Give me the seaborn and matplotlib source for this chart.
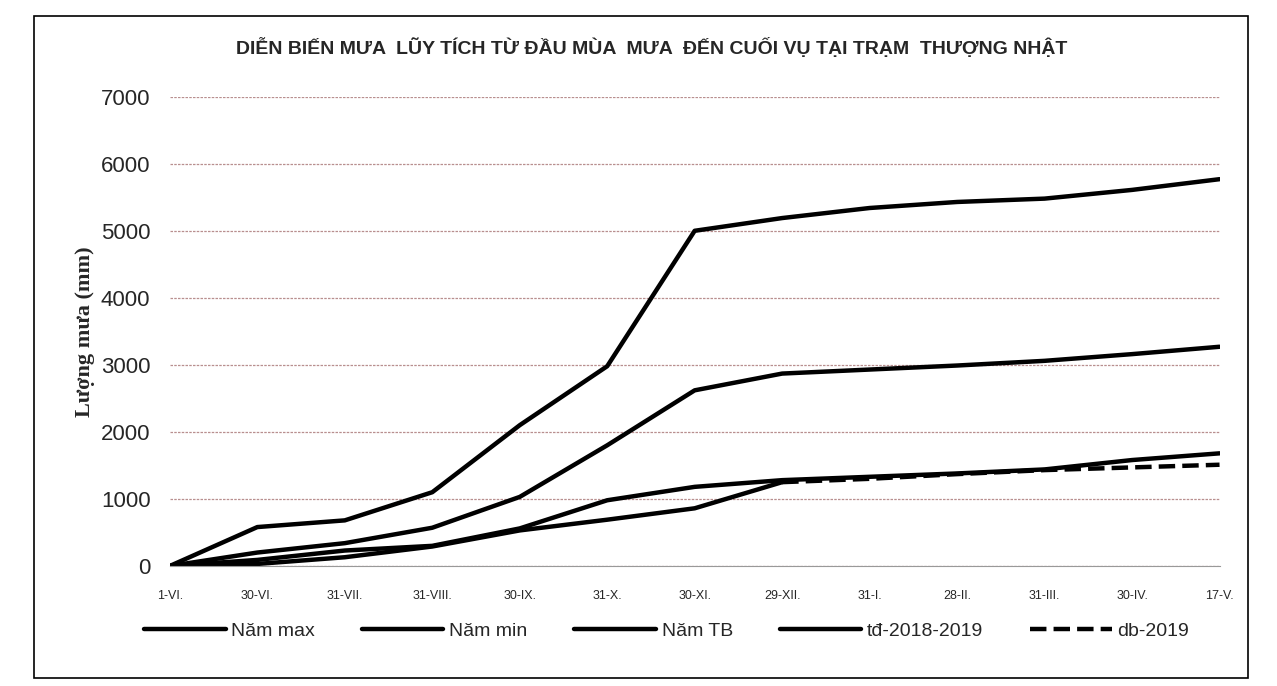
import numpy as np
import pandas as pd
import matplotlib.pyplot as plt
import seaborn as sns
from matplotlib.patches import Rectangle

# Dữ liệu
months = ['1-VI.', '30-VI.', '31-VII.', '31-VIII.', '30-IX.', '31-X.', '30-XI.',
          '29-XII.', '31-I.', '28-II.', '31-III.', '30-IV.', '17-V.']
nam_max = [0, 580, 680, 1100, 2100, 2980, 5000, 5190, 5340, 5430, 5480, 5610, 5770]
nam_min = [0, 90, 230, 300, 560, 980, 1180, 1280, 1330, 1380, 1440, 1580, 1680]
nam_tb = [0, 200, 340, 570, 1030, 1800, 2620, 2870, 2930, 2990, 3060, 3160, 3270]
td_2018_2019 = [0, 30, 130, 290, 530, 690, 860, 1250] + [np.nan] * 5
db_2019 = [np.nan] * 7 + [1250, 1300, 1370, 1430, 1470, 1510]

series = {
    'Năm max': nam_max,
    'Năm min': nam_min,
    'Năm TB': nam_tb,
    'tđ-2018-2019': td_2018_2019,
    'db-2019': db_2019,
}

sns.set_style('white')
plt.rcParams['font.family'] = ['Liberation Sans Narrow', 'Liberation Sans', 'DejaVu Sans']

fig = plt.figure(figsize=(12.77, 6.86), dpi=100)
ax = fig.add_axes([0.133, 0.175, 0.822, 0.684])

x = np.arange(len(months))
for name, vals in series.items():
    df = pd.DataFrame({'x': x, 'y': vals}).dropna()
    sns.lineplot(data=df, x='x', y='y', ax=ax, color='black', linewidth=3.2,
                 linestyle='--' if name == 'db-2019' else '-', label=name,
                 sort=False)

ax.set_xlim(0, 12)
ax.set_ylim(0, 7000)
ax.set_yticks(range(0, 7001, 1000))
ax.set_yticklabels([str(v) for v in range(0, 7001, 1000)], fontsize=16)
ax.set_xticks(x)
ax.set_xticklabels(months, fontsize=9)
ax.tick_params(axis='x', length=5, direction='out', pad=12, color='#888888')
ax.tick_params(axis='y', length=0, pad=14)
ax.yaxis.grid(True, color='#b88f8f', linewidth=0.9, linestyle=(0, (2, 1)))
ax.set_axisbelow(True)
for s in ['top', 'right', 'left']:
    ax.spines[s].set_visible(False)
ax.spines['bottom'].set_color('#999999')
ax.set_xlabel('')
ax.set_ylabel('Lượng mưa (mm)', fontsize=16, fontweight='bold',
              family=['Liberation Serif', 'DejaVu Serif'], labelpad=4)

fig.suptitle('DIỄN BIẾN MƯA  LŨY TÍCH TỪ ĐẦU MÙA  MƯA  ĐẾN CUỐI VỤ TẠI TRẠM  THƯỢNG NHẬT',
             x=0.51, y=0.945, fontsize=14, fontweight='bold')

ax.legend(loc='center', bbox_to_anchor=(0.522, 0.08), bbox_transform=fig.transFigure,
          ncol=5, frameon=False, fontsize=14, handlelength=4.2, columnspacing=2.4,
          handletextpad=0.3)

fig.patches.append(Rectangle((0.027, 0.012), 0.95, 0.965, transform=fig.transFigure,
                             fill=False, edgecolor='black', linewidth=1.2))

fig.savefig('out.png', dpi=100)
